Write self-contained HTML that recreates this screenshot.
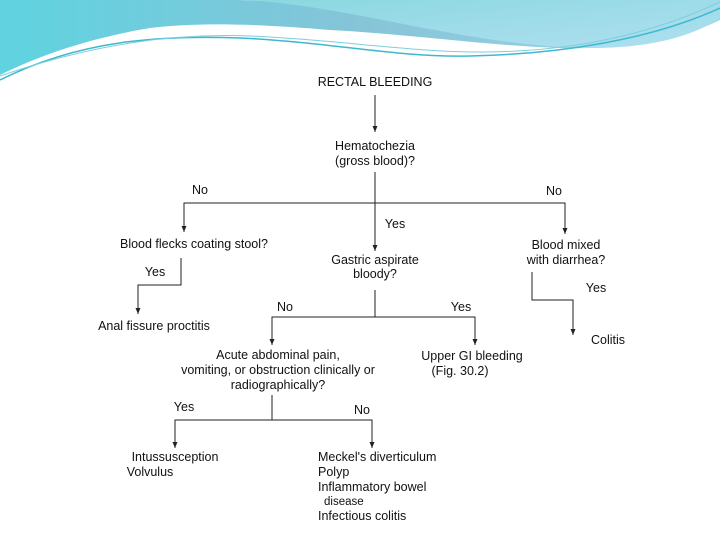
<!DOCTYPE html>
<html><head><style>
body{margin:0;width:720px;height:540px;overflow:hidden;background:#fff}
</style></head><body>
<svg width="720" height="540" viewBox="0 0 720 540" xmlns="http://www.w3.org/2000/svg">
<defs>
<linearGradient id="g1" x1="0" y1="0" x2="1" y2="0">
<stop offset="0" stop-color="#5fd3e0"/><stop offset="0.5" stop-color="#86c4d8"/><stop offset="1" stop-color="#9fd6e6"/>
</linearGradient>
<linearGradient id="g2" x1="0" y1="0" x2="1" y2="1">
<stop offset="0" stop-color="#8ad8e0"/><stop offset="1" stop-color="#b0dff0"/>
</linearGradient>
<marker id="a" markerWidth="7" markerHeight="6" refX="6" refY="3" orient="auto" markerUnits="userSpaceOnUse">
<path d="M0,0.5 L6,3 L0,5.5 Z" fill="#222"/></marker>
</defs>
<path d="M0,0 H720 V20 C680,40 620,50 560,48 C480,45 420,35 330,30 C260,24 200,22 150,28 C90,38 40,55 0,75 Z" fill="url(#g1)"/>
<path d="M235,0 H720 V15 C690,35 640,50 560,45 C450,38 330,0 235,0 Z" fill="#fff"/>
<path d="M245,0 H720 V18 C690,38 640,52 560,47 C450,40 340,5 245,0 Z" fill="url(#g2)"/>
<path d="M0,80 C80,40 160,35 240,38 C330,42 400,58 470,56 C560,54 650,40 720,8" fill="none" stroke="#3fb8cf" stroke-width="1.5"/>
<path d="M0,76 C90,45 170,33 250,36 C340,40 410,52 480,52 C570,52 650,35 720,2" fill="none" stroke="#7ccfdc" stroke-width="1"/>
<g font-family="Liberation Sans, sans-serif" font-size="12.5" fill="#111" text-anchor="middle">
<text x="375" y="86">RECTAL BLEEDING</text>
<text x="375" y="150">Hematochezia</text>
<text x="375" y="165">(gross blood)?</text>
<text x="200" y="194">No</text>
<text x="554" y="195">No</text>
<text x="395" y="228">Yes</text>
<text x="194" y="248">Blood flecks coating stool?</text>
<text x="375" y="264">Gastric aspirate</text>
<text x="375" y="278">bloody?</text>
<text x="566" y="249">Blood mixed</text>
<text x="566" y="264">with diarrhea?</text>
<text x="155" y="276">Yes</text>
<text x="596" y="292">Yes</text>
<text x="285" y="311">No</text>
<text x="461" y="311">Yes</text>
<text x="154" y="330">Anal fissure proctitis</text>
<text x="608" y="344">Colitis</text>
<text x="278" y="359">Acute abdominal pain,</text>
<text x="278" y="374">vomiting, or obstruction clinically or</text>
<text x="278" y="389">radiographically?</text>
<text x="472" y="360">Upper GI bleeding</text>
<text x="460" y="375">(Fig. 30.2)</text>
<text x="184" y="411">Yes</text>
<text x="362" y="414">No</text>
<text x="175" y="461">Intussusception</text>
<text x="150" y="476">Volvulus</text>
</g>
<g font-family="Liberation Sans, sans-serif" font-size="12.5" fill="#111">
<text x="318" y="461">Meckel's diverticulum</text>
<text x="318" y="476">Polyp</text>
<text x="318" y="491">Inflammatory bowel</text>
<text x="324" y="505" font-size="11.5">disease</text>
<text x="318" y="520">Infectious colitis</text>
</g>
<g stroke="#222" stroke-width="1" fill="none">
<line x1="375" y1="95" x2="375" y2="132" marker-end="url(#a)"/>
<line x1="375" y1="172" x2="375" y2="251" marker-end="url(#a)"/>
<polyline points="184,230 184,203 565,203 565,232" />
<line x1="184" y1="215" x2="184" y2="232" marker-end="url(#a)"/>
<line x1="565" y1="218" x2="565" y2="234" marker-end="url(#a)"/>
<polyline points="181,258 181,285 138,285 138,314" marker-end="url(#a)"/>
<polyline points="375,290 375,317"/>
<polyline points="272,343 272,317 475,317 475,343"/>
<line x1="272" y1="330" x2="272" y2="345" marker-end="url(#a)"/>
<line x1="475" y1="330" x2="475" y2="345" marker-end="url(#a)"/>
<polyline points="532,272 532,300 573,300 573,335" marker-end="url(#a)"/>
<line x1="272" y1="395" x2="272" y2="420"/>
<polyline points="175,446 175,420 372,420 372,446"/>
<line x1="175" y1="432" x2="175" y2="448" marker-end="url(#a)"/>
<line x1="372" y1="432" x2="372" y2="448" marker-end="url(#a)"/>
</g>
</svg>
</body></html>
